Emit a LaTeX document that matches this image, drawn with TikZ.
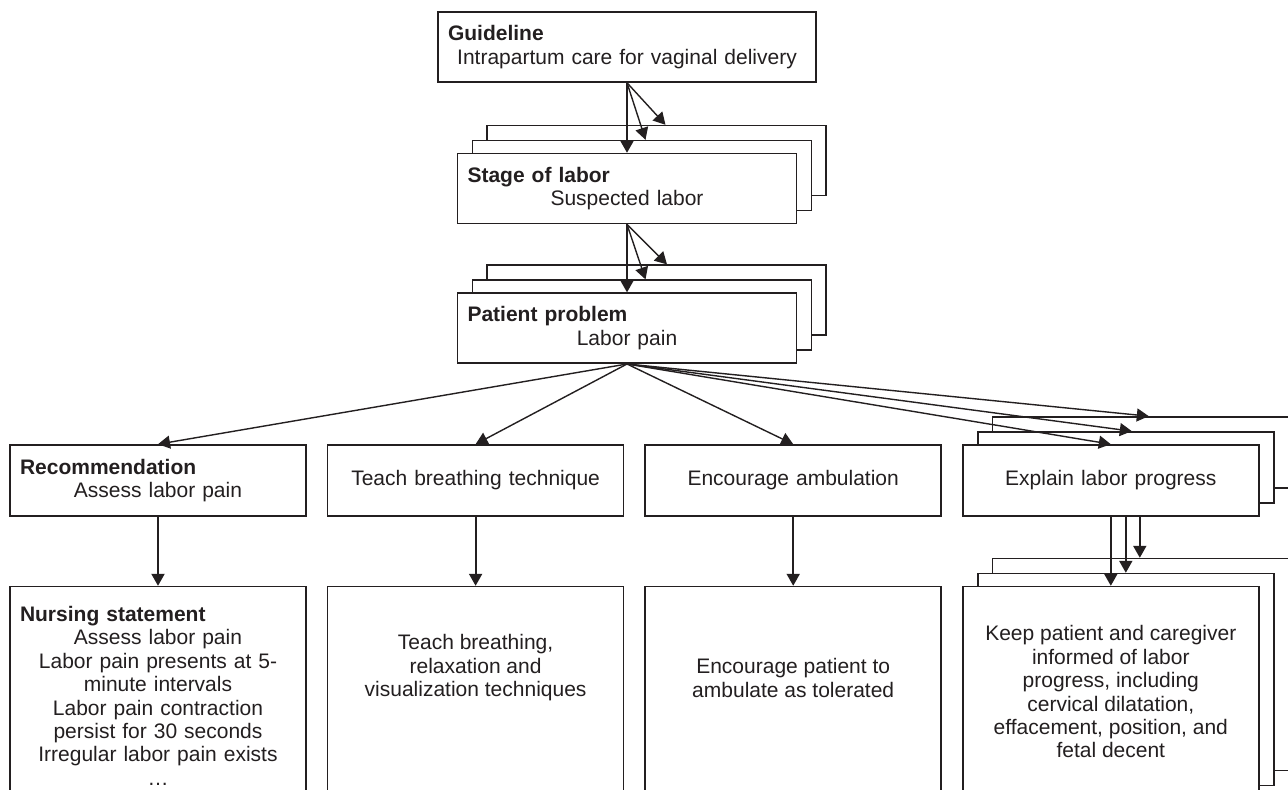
\documentclass[tikz,border=0pt]{standalone}
\usepackage{fontspec}
\setmainfont{Liberation Sans}
\usepackage{xcolor}
\usepackage{tikz}
\definecolor{inkgray}{HTML}{231F20}
\usetikzlibrary{arrows.meta, positioning, shadows}

\newcommand{\boxtitle}[1]{\makebox[\hsize][l]{\textbf{#1}}\\}

\begin{document}
\begin{tikzpicture}[
    x=0.5pt, y=-0.5pt,
    every node/.style = {font=\fontsize{10.5}{11.7}\selectfont, text=inkgray},
    box/.style = {draw=inkgray, fill=white, line width=0.8pt,
                  inner xsep=5pt, inner ysep=0pt, align=center},
    stacked/.style = {copy shadow={shadow xshift=14.75pt, shadow yshift=14pt,
                                   draw=inkgray, line width=0.8pt},
                      copy shadow={shadow xshift=7.5pt, shadow yshift=6.5pt,
                                   draw=inkgray, line width=0.8pt}},
    topbox/.style = {box, text width=159.5pt, minimum height=35pt},
    midbox/.style = {box, text width=138pt, minimum height=35.5pt},
    lowbox/.style = {box, minimum width=148pt, minimum height=106pt},
    txt/.style = {inner sep=0pt, align=center},
    arr/.style = {-{Triangle[length=6pt, width=6.5pt]}, draw=inkgray, line width=0.7pt},
    downarr/.style = {arr, line width=1pt},
  ]
  \useasboundingbox[fill=white] (0,0) rectangle (1288,790);
  \clip (0,0) rectangle (1288,790);

  %% Nodes
  \node[box, text width=179pt, minimum height=35pt] (guide) at (627,47)
    {\boxtitle{Guideline}Intrapartum care for vaginal delivery};
  \node[topbox, stacked, below=35pt of guide] (stage)
    {\boxtitle{Stage of labor}Suspected labor};
  \node[topbox, stacked, below=34pt of stage] (patient)
    {\boxtitle{Patient problem}Labor pain};

  \node[midbox] (rec) at (158,480.5) {\boxtitle{Recommendation}Assess labor pain};
  \node[midbox, right=10pt of rec] (teach) {Teach breathing technique};
  \node[midbox, right=10pt of teach] (ambul) {Encourage ambulation};
  \node[midbox, stacked, right=10pt of ambul] (explain) {Explain labor progress};

  \node[lowbox, below=34.5pt of rec] (recnote) {};
  \node[lowbox, below=34.5pt of teach] (teachnote) {};
  \node[lowbox, below=34.5pt of ambul] (ambulnote) {};
  \node[lowbox, stacked, below=34.5pt of explain] (explainnote) {};

  %% Texts of the lower boxes
  \node[txt, text width=138pt, below=10pt of recnote.north] (rectext)
    {\boxtitle{Nursing statement}Assess labor pain\\Labor pain presents at 5-\\minute intervals\\
     Labor pain contraction\\persist for 30 seconds\\Irregular labor pain exists\\\ldots};
  \node[txt] (teachtext) at ([yshift=-41pt]teachnote.north)
    {Teach breathing,\\relaxation and\\visualization techniques};
  \node[txt] (ambultext) at ([yshift=-46pt]ambulnote.north)
    {Encourage patient to\\ambulate as tolerated};
  \node[txt] (explaintext) at ([yshift=-53pt]explainnote.north)
    {Keep patient and caregiver\\informed of labor\\progress, including\\cervical dilatation,\\
     effacement, position, and\\fetal decent};

  %% Ends on the stacked copies
  \coordinate (stageB) at ([shift={(9.25pt,6.5pt)}]stage.north);
  \coordinate (stageC) at ([shift={(19.25pt,14pt)}]stage.north);
  \coordinate (patientB) at ([shift={(9.25pt,6.5pt)}]patient.north);
  \coordinate (patientC) at ([shift={(20pt,14pt)}]patient.north);
  \coordinate (explainB) at ([shift={(10.5pt,6.5pt)}]explain.north);
  \coordinate (explainC) at ([shift={(19pt,14pt)}]explain.north);
  \coordinate (explainS2) at ([xshift=7.5pt]explain.south);
  \coordinate (explainS3) at ([xshift=14.5pt]explain.south);
  \coordinate (noteB) at ([shift={(7.5pt,6.5pt)}]explainnote.north);
  \coordinate (noteC) at ([shift={(14.5pt,14pt)}]explainnote.north);

  %% Arrows
  \draw[downarr] (guide) -- (stage);
  \draw[arr] (guide.south) -- (stageB);
  \draw[arr] (guide.south) -- (stageC);

  \draw[downarr] (stage) -- (patient);
  \draw[arr] (stage.south) -- (patientB);
  \draw[arr] (stage.south) -- (patientC);

  \draw[arr] (patient.south) -- (rec.north);
  \draw[arr] (patient.south) -- (teach.north);
  \draw[arr] (patient.south) -- (ambul.north);
  \draw[arr] (patient.south) -- (explain.north);
  \draw[arr] (patient.south) -- (explainB);
  \draw[arr] (patient.south) -- (explainC);

  \draw[downarr] (rec) -- (recnote);
  \draw[downarr] (teach) -- (teachnote);
  \draw[downarr] (ambul) -- (ambulnote);
  \draw[downarr] (explain) -- (explainnote);
  \draw[downarr] (explainS2) -- (noteB);
  \draw[downarr] (explainS3) -- (noteC);
\end{tikzpicture}
\end{document}
